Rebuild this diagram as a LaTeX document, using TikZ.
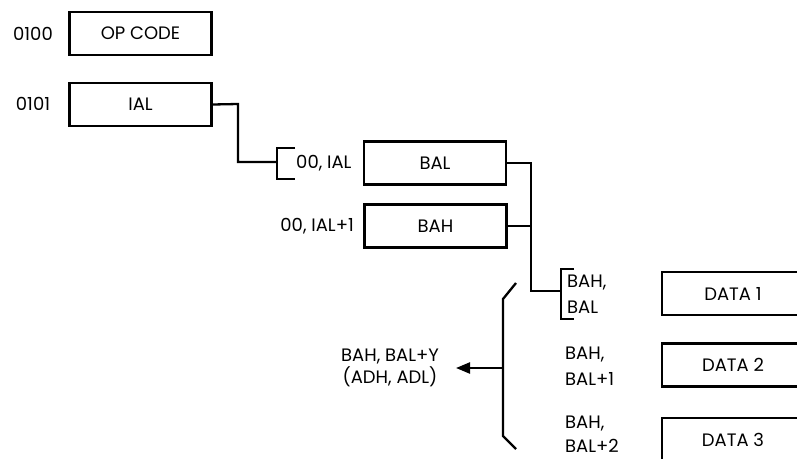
\documentclass[tikz,border=0pt]{standalone}
\usepackage{fontspec}
\setmainfont{Poppins}
\usetikzlibrary{arrows.meta}
\begin{document}
\begin{tikzpicture}[x=1pt,y=-1pt,
  lw/.style={line width=2.3pt},
  cell/.style={draw,lw,minimum width=142pt,minimum height=43pt,inner sep=0pt,font=\fontsize{18}{20}\selectfont},
  lbl/.style={inner sep=0pt,font=\fontsize{18}{20}\selectfont},
  conn/.style={lw,line cap=butt,line join=miter}]
\useasboundingbox (0,0) rectangle (797,458);
\clip (0,0) rectangle (797,458);
% addresses
\node[lbl] (a0) at (33,34) {0100};
\node[lbl] (a1) at (33,104) {0101};
\node[cell] (op) at (140.5,33.5) {OP CODE};
\node[cell] (ial) at (140.5,104.5) {IAL};
% indirect
\node[lbl,anchor=west] (l1) at (296,163) {00, IAL};
\node[lbl,anchor=east] (l2) at (354,226) {00, IAL+1};
\node[cell] (bal) at (435,163) {BAL};
\node[cell] (bah) at (435.5,226) {BAH};
% bracket 1
\coordinate (b1t) at (295,148);
\coordinate (b1m) at (277,162);
\coordinate (b1b) at (295,179);
\draw[conn] (b1t) -- (277,148) -- (277,179) -- (b1b);
\draw[conn] (ial.east) -- (238,104) -- (238,162) -- (b1m);
% bracket 2
\coordinate (b2m) at (561,291);
\draw[conn] (574,269) -- (561,269) -- (561,319) -- (574,319);
\draw[conn] (bal.east) -- (531,163) -- (531,291) -- (b2m);
\draw[conn] (bah.east) -- (531,226);
% data addresses
\node[lbl,anchor=west] (d1a) at (567,283) {BAH,};
\node[lbl,anchor=west] (d1b) at (567,307) {BAL};
\node[lbl,anchor=west] (d2a) at (565,355) {BAH,};
\node[lbl,anchor=west] (d2b) at (565,379) {BAL+1};
\node[lbl,anchor=west] (d3a) at (565,424) {BAH,};
\node[lbl,anchor=west] (d3b) at (565,446) {BAL+2};
% data cells
\node[cell] (data1) at (733,293.5) {DATA 1};
\node[cell] (data2) at (733,365) {DATA 2};
\node[cell] (data3) at (733,439.5) {DATA 3};
% big bracket and arrow
\coordinate (bbm) at (503,368);
\draw[conn] (516,283) -- (503,299) -- (503,436) -- (516,449);
\node[lbl,align=center] (res) at (390,368) {BAH, BAL+Y\\[2pt](ADH, ADL)};
\coordinate (tip) at (456,368);
\draw[conn,-{Triangle[length=14pt,width=11pt]}] (bbm) -- (tip);
\end{tikzpicture}
\end{document}
